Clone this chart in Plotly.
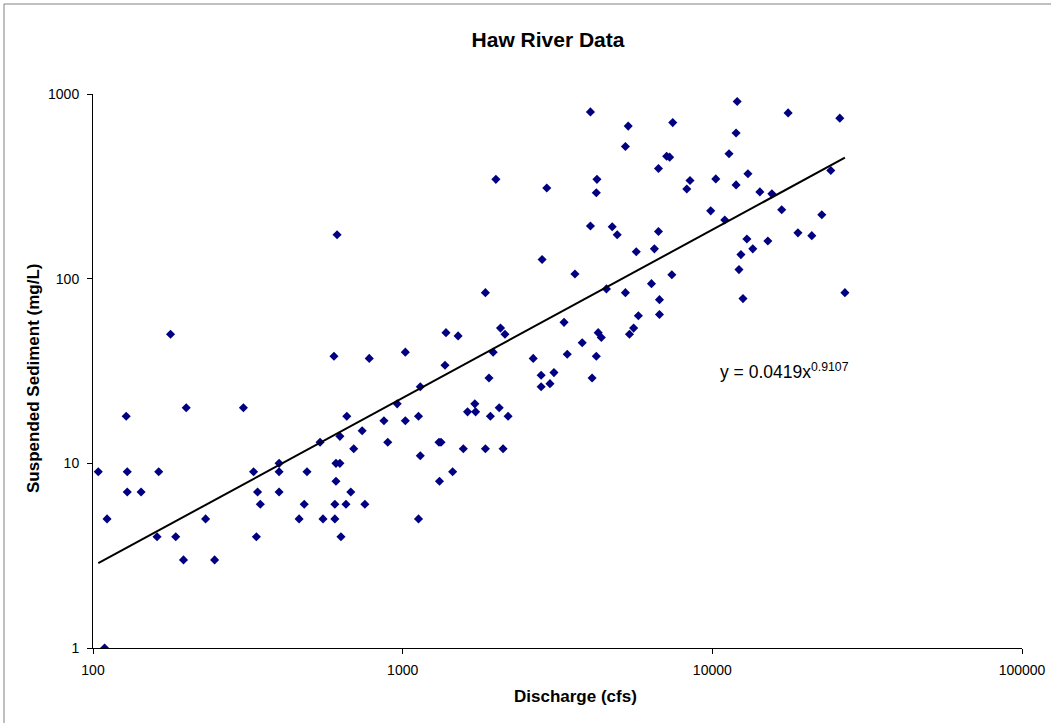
import plotly.graph_objects as go

# Haw River paired samples: discharge (cfs) and suspended sediment (mg/L)
discharge_cfs = [
    104, 109, 111, 128, 129, 129, 143, 161, 163, 178, 185, 196, 200, 231, 247,
    306, 330, 337, 340, 347, 399, 399, 399, 463, 481, 491, 541, 553, 600, 604,
    604, 609, 609, 614, 627, 627, 632, 656, 660, 680, 695, 740, 755, 780, 870,
    895, 960, 1020, 1020,
    1125, 1125, 1140, 1140, 1310, 1330, 1315, 1370, 1380, 1450, 1510, 1570,
    1620, 1710, 1720, 1850, 1850, 1900, 1920, 1960, 2000, 2050, 2070, 2110,
    2140, 2190, 2640, 2800, 2800, 2820, 2920, 2990, 3080, 3320, 3400, 3600,
    3800, 4040, 4040, 4090, 4220, 4220, 4240, 4280, 4380, 4550, 4750, 4930,
    5240, 5240, 5350, 5400, 5570, 5680, 5770, 6360, 6500, 6700, 6700, 6750,
    6750, 7120, 7280, 7400, 7450, 8270, 8470, 9880, 10260, 10970, 11320,
    11930, 11930, 12030, 12190, 12370, 12560, 12930, 13030, 13510, 14240,
    15110, 15570, 16750, 17570, 18900, 20950, 22570, 24130, 25800, 26800,
]
sediment_mg_l = [
    9, 1, 5, 18, 9, 7, 7, 4, 9, 50, 4, 3, 20, 5, 3,
    20, 9, 4, 7, 6, 10, 9, 7, 5, 6, 9, 13, 5, 38, 6,
    5, 10, 8, 173, 10, 14, 4, 6, 18, 7, 12, 15, 6, 37, 17,
    13, 21, 40, 17,
    18, 5, 26, 11, 13, 13, 8, 34, 51, 9, 49, 12,
    19, 21, 19, 84, 12, 29, 18, 40, 345, 20, 54, 12,
    50, 18, 37, 30, 26, 127, 310, 27, 31, 58, 39, 106,
    45, 800, 193, 29, 38, 292, 345, 51, 48, 88, 191, 173,
    84, 520, 670, 50, 54, 140, 63, 94, 145, 395, 180, 77,
    64, 460, 455, 105, 700, 306, 340, 233, 347, 208, 475,
    615, 322, 910, 112, 135, 78, 164, 370, 145, 295,
    160, 288, 236, 790, 177, 171, 222, 385, 740, 84,
]

# Power-law trendline y = a * x^b
fit_coef = 0.0419
fit_exp = 0.9107

x_tick_vals = [100, 1000, 10000, 100000]
y_tick_vals = [1, 10, 100, 1000]

FONT = "Liberation Sans, Arial, sans-serif"
W, H = 1051, 723
L, R, T, B = 93, 29, 94, 75
plot_w = W - L - R
plot_h = H - T - B


def px_x(p):
    return (p - L) / plot_w


def px_y(p):
    return (H - B - p) / plot_h


fit_x = [min(discharge_cfs), max(discharge_cfs)]
fit_y = [fit_coef * v ** fit_exp for v in fit_x]

fig = go.Figure()
fig.add_trace(go.Scatter(
    x=discharge_cfs, y=sediment_mg_l, mode="markers",
    marker=dict(symbol="diamond", size=7, color="#000080", line=dict(width=0)),
    showlegend=False,
))
fig.add_trace(go.Scatter(
    x=fit_x, y=fit_y, mode="lines",
    line=dict(color="black", width=2),
    showlegend=False,
))

axis_common = dict(
    type="log", showgrid=False, zeroline=False,
    showline=True, linecolor="black", linewidth=1,
    ticks="outside", ticklen=5, tickcolor="black", tickwidth=1,
    tickfont=dict(family=FONT, size=14, color="black"),
)
fig.update_xaxes(
    range=[2, 5], tickvals=x_tick_vals,
    ticktext=[str(v) for v in x_tick_vals], ticklabelstandoff=4,
    **axis_common,
)
fig.update_yaxes(
    range=[0, 3], tickvals=y_tick_vals,
    ticktext=[str(v) for v in y_tick_vals], ticklabelstandoff=5,
    **axis_common,
)

annotations = [
    dict(text="<b>Discharge (cfs)</b>", xref="paper", yref="paper",
         x=px_x(575), y=px_y(696), showarrow=False,
         xanchor="center", yanchor="middle",
         font=dict(family=FONT, size=17, color="black")),
    dict(text="<b>Suspended Sediment (mg/L)</b>", xref="paper", yref="paper",
         x=px_x(33), y=px_y(378), showarrow=False, textangle=-90,
         xanchor="center", yanchor="middle",
         font=dict(family=FONT, size=17, color="black")),
    dict(text=f"y = {fit_coef}x<sup>{fit_exp}</sup>", xref="paper", yref="paper",
         x=px_x(718), y=px_y(371), showarrow=False,
         xanchor="left", yanchor="middle",
         font=dict(family=FONT, size=17.5, color="black")),
]

# Chart-area border along the top and left edges
border = dict(type="line", xref="paper", yref="paper",
              line=dict(color="#808080", width=1))
shapes = [
    dict(border, x0=px_x(4), x1=px_x(W + 2), y0=px_y(4), y1=px_y(4)),
    dict(border, x0=px_x(4), x1=px_x(4), y0=px_y(4), y1=px_y(H + 2)),
]

fig.update_layout(
    width=W, height=H,
    margin=dict(l=L, r=R, t=T, b=B, autoexpand=False),
    paper_bgcolor="white", plot_bgcolor="white",
    title=dict(text="<b>Haw River Data</b>", x=548 / W,
               xanchor="center", y=1 - 40 / H, yanchor="middle",
               xref="container", yref="container",
               font=dict(family=FONT, size=21, color="black")),
    annotations=annotations,
    shapes=shapes,
)

fig.write_html("out.html", config={"displayModeBar": False})
